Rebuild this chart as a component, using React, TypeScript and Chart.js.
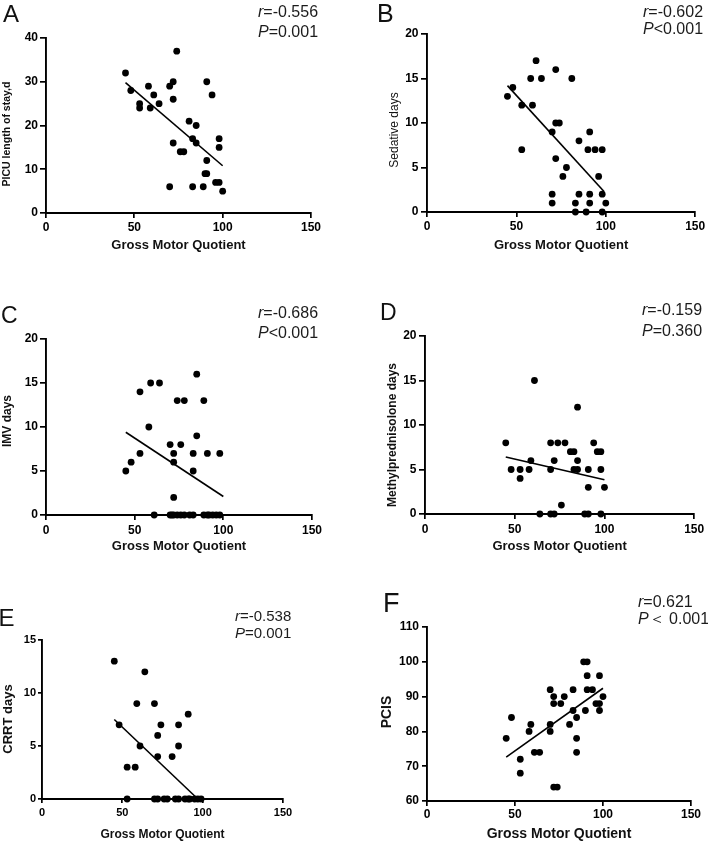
import React, { useEffect, useRef } from "react";
import { Chart, registerables } from "chart.js";

Chart.register(...registerables);

const FAMILY = '"Liberation Sans", Arial, Helvetica, sans-serif';

// ---------- data ----------
const xTickValues = [0, 50, 100, 150];
const xAxisTitle = "Gross Motor Quotient";

// A: PICU length of stay
const picuGMQ = [45, 48, 53, 53, 58, 59, 61, 64, 70, 70, 72, 72, 72, 74, 76, 78, 81, 83, 83, 85, 85, 89, 90, 91, 91, 91, 94, 96, 98, 98, 98, 100];
const picuStay = [32, 28, 25, 24, 29, 24, 27, 25, 29, 6, 30, 26, 16, 37, 14, 14, 21, 17, 6, 20, 16, 6, 9, 9, 12, 30, 27, 7, 17, 15, 7, 5];
const picuFitGMQ = [45, 100];
const picuFitStay = [29.8, 10.8];
const picuYTicks = [0, 10, 20, 30, 40];

// B: Sedative days
const sedGMQ = [45, 48, 53, 53, 58, 59, 61, 64, 70, 70, 70, 72, 72, 72, 74, 76, 78, 81, 83, 83, 85, 85, 89, 90, 91, 91, 91, 94, 96, 98, 98, 98, 100];
const sedDays = [13, 14, 12, 7, 15, 12, 17, 15, 9, 2, 1, 16, 10, 6, 10, 4, 5, 15, 1, 0, 8, 2, 0, 7, 9, 2, 1, 7, 4, 7, 2, 0, 1];
const sedFitGMQ = [45, 99];
const sedFitDays = [14.2, 2.3];
const sedYTicks = [0, 5, 10, 15, 20];

// C: IMV days
const imvGMQ = [45, 48, 53, 53, 58, 59, 64, 70, 72, 72, 72, 74, 76, 78, 83, 83, 85, 85, 89, 91, 98, 61, 70, 71, 72, 74, 76, 78, 81, 83, 89, 91, 92, 94, 96, 98];
const imvDays = [5, 6, 7, 14, 10, 15, 15, 8, 7, 6, 2, 13, 8, 13, 7, 5, 16, 9, 13, 7, 7, 0, 0, 0, 0, 0, 0, 0, 0, 0, 0, 0, 0, 0, 0, 0];
const imvFitGMQ = [45, 100];
const imvFitDays = [9.4, 2.1];
const imvYTicks = [0, 5, 10, 15, 20];

// D: Methylprednisolone days
const mpGMQ = [45, 48, 53, 53, 58, 59, 61, 64, 70, 70, 70, 72, 72, 74, 76, 78, 81, 83, 83, 85, 85, 85, 89, 91, 91, 91, 94, 96, 98, 98, 98, 100];
const mpDays = [8, 5, 5, 4, 5, 6, 15, 0, 8, 5, 0, 0, 6, 8, 1, 8, 7, 7, 5, 5, 6, 12, 0, 0, 5, 3, 8, 7, 7, 5, 0, 3];
const mpFitGMQ = [45, 100];
const mpFitDays = [6.4, 3.85];
const mpYTicks = [0, 5, 10, 15, 20];

// E: CRRT days
const crrtGMQ = [45, 48, 53, 58, 59, 61, 64, 70, 72, 72, 74, 81, 85, 85, 91, 53, 70, 72, 76, 78, 83, 85, 89, 91, 92, 95, 97, 99];
const crrtDays = [13, 7, 3, 3, 9, 5, 12, 9, 6, 4, 7, 4, 7, 5, 8, 0, 0, 0, 0, 0, 0, 0, 0, 0, 0, 0, 0, 0];
const crrtFitGMQ = [45, 97];
const crrtFitDays = [7.5, 0];
const crrtYTicks = [0, 5, 10, 15];

// F: PCIS
const pcisGMQ = [45, 48, 53, 53, 58, 59, 61, 64, 70, 70, 70, 72, 72, 72, 74, 76, 78, 81, 83, 83, 85, 85, 85, 89, 91, 91, 91, 90, 94, 96, 98, 98, 98, 100];
const pcisScore = [78, 84, 72, 68, 80, 82, 74, 74, 82, 80, 92, 90, 88, 64, 64, 88, 90, 82, 92, 86, 84, 78, 74, 100, 100, 96, 92, 86, 92, 88, 88, 96, 86, 90];
const pcisFitGMQ = [45, 100];
const pcisFitScore = [72.6, 92.4];
const pcisYTicks = [60, 70, 80, 90, 100, 110];

const panelLetters = ["A", "B", "C", "D", "E", "F"];
const yAxisTitles = ["PICU length of stay,d", "Sedative days", "IMV days", "Methylprednisolone days", "CRRT days", "PCIS"];
const rTexts = ["=-0.556", "=-0.602", "=-0.686", "=-0.159", "=-0.538", "=0.621"];
const pTexts = ["=0.001", "<0.001", "<0.001", "=0.360", "=0.001", "\uFF1C 0.001"];

// ---------- layout / style (page coordinates) ----------
type Layout = {
  box: [number, number, number, number]; // x, y, w, h
  area: [number, number, number, number]; // left, right, top, bottom
  tickSize: number;
  xTl: number; xPad: number; yTl: number; yPad: number;
  xTitleSize: number; xTitleY: number;
  yTitleSize: number; yTitleBold: boolean; yTitleX: number; yTitleY: number;
  letterSize: number; letterX: number; letterBase: number;
  statSize: number; statX: number; statB1: number; statB2: number;
};

const layouts: Layout[] = [
  { box: [0, 0, 354, 270], area: [46, 311, 38, 213], tickSize: 12, xTl: 5, xPad: 2.3, yTl: 6, yPad: 2,
    xTitleSize: 13, xTitleY: 245.6, yTitleSize: 10.5, yTitleBold: true, yTitleX: 6.7, yTitleY: 134,
    letterSize: 24, letterX: 3, letterBase: 22, statSize: 16, statX: 258, statB1: 17.3, statB2: 37.3 },
  { box: [354, 0, 354, 270], area: [427, 697, 34, 212], tickSize: 12, xTl: 5, xPad: 2.8, yTl: 6, yPad: 2.5,
    xTitleSize: 13, xTitleY: 245.6, yTitleSize: 12, yTitleBold: false, yTitleX: 394.5, yTitleY: 130,
    letterSize: 25, letterX: 377, letterBase: 21.7, statSize: 16, statX: 643, statB1: 17, statB2: 33.5 },
  { box: [0, 270, 354, 290], area: [46, 312, 339, 515], tickSize: 12, xTl: 5, xPad: 3.6, yTl: 6, yPad: 2,
    xTitleSize: 13, xTitleY: 546, yTitleSize: 12, yTitleBold: true, yTitleX: 8, yTitleY: 421,
    letterSize: 23, letterX: 1, letterBase: 323, statSize: 16, statX: 258, statB1: 318.3, statB2: 338.3 },
  { box: [354, 270, 354, 290], area: [425, 696, 336, 514], tickSize: 12, xTl: 5, xPad: 3.8, yTl: 6, yPad: 2.5,
    xTitleSize: 13, xTitleY: 546, yTitleSize: 12, yTitleBold: true, yTitleX: 393, yTitleY: 435,
    letterSize: 23, letterX: 380, letterBase: 320, statSize: 16, statX: 642, statB1: 315, statB2: 336 },
  { box: [0, 560, 354, 290], area: [42, 283, 640, 799], tickSize: 11, xTl: 4, xPad: 2.9, yTl: 4, yPad: 2,
    xTitleSize: 12, xTitleY: 834.5, yTitleSize: 13, yTitleBold: true, yTitleX: 8.3, yTitleY: 719,
    letterSize: 24, letterX: -1.5, letterBase: 626, statSize: 15, statX: 235, statB1: 621, statB2: 638 },
  { box: [354, 560, 354, 290], area: [427, 691, 627, 801], tickSize: 12, xTl: 5, xPad: 1.9, yTl: 5, yPad: 3,
    xTitleSize: 14, xTitleY: 834.5, yTitleSize: 14, yTitleBold: true, yTitleX: 387, yTitleY: 712,
    letterSize: 27, letterX: 383, letterBase: 611.5, statSize: 16, statX: 638, statB1: 606.7, statB2: 624 },
];

type PanelData = { xs: number[]; ys: number[]; fitX: number[]; fitY: number[]; yTicks: number[] };
const panelData: PanelData[] = [
  { xs: picuGMQ, ys: picuStay, fitX: picuFitGMQ, fitY: picuFitStay, yTicks: picuYTicks },
  { xs: sedGMQ, ys: sedDays, fitX: sedFitGMQ, fitY: sedFitDays, yTicks: sedYTicks },
  { xs: imvGMQ, ys: imvDays, fitX: imvFitGMQ, fitY: imvFitDays, yTicks: imvYTicks },
  { xs: mpGMQ, ys: mpDays, fitX: mpFitGMQ, fitY: mpFitDays, yTicks: mpYTicks },
  { xs: crrtGMQ, ys: crrtDays, fitX: crrtFitGMQ, fitY: crrtFitDays, yTicks: crrtYTicks },
  { xs: pcisGMQ, ys: pcisScore, fitX: pcisFitGMQ, fitY: pcisFitScore, yTicks: pcisYTicks },
];

function makeOverlay(i: number) {
  const L = layouts[i];
  const bx = L.box[0];
  const by = L.box[1];
  return {
    id: "overlay" + i,
    afterDraw(chart: any) {
      const ctx: CanvasRenderingContext2D = chart.ctx;
      ctx.save();
      ctx.textAlign = "left";
      ctx.textBaseline = "alphabetic";
      // panel letter
      ctx.fillStyle = "#111";
      ctx.font = `${L.letterSize}px ${FAMILY}`;
      ctx.fillText(panelLetters[i], L.letterX - bx, L.letterBase - by);
      // statistics
      ctx.fillStyle = "#1c1c1c";
      const sx = L.statX - bx;
      ctx.font = `italic ${L.statSize}px ${FAMILY}`;
      ctx.fillText("r", sx, L.statB1 - by);
      let w = ctx.measureText("r").width;
      ctx.font = `${L.statSize}px ${FAMILY}`;
      ctx.fillText(rTexts[i], sx + w, L.statB1 - by);
      ctx.font = `italic ${L.statSize}px ${FAMILY}`;
      ctx.fillText("P", sx, L.statB2 - by);
      w = ctx.measureText("P").width;
      ctx.font = `${L.statSize}px ${FAMILY}`;
      ctx.fillText(pTexts[i], sx + w, L.statB2 - by);
      // y axis title
      ctx.fillStyle = "#111";
      ctx.translate(L.yTitleX - bx, L.yTitleY - by);
      ctx.rotate(-Math.PI / 2);
      ctx.textAlign = "center";
      ctx.textBaseline = "middle";
      ctx.font = `${L.yTitleBold ? "bold " : ""}${L.yTitleSize}px ${FAMILY}`;
      ctx.fillText(yAxisTitles[i], 0, 0);
      ctx.restore();
    },
  };
}

function Panel({ index }: { index: number }) {
  const ref = useRef<HTMLCanvasElement | null>(null);
  const L = layouts[index];
  const D = panelData[index];
  const [bx, by, bw, bh] = L.box;
  const [al, ar, at, ab] = L.area;

  useEffect(() => {
    if (!ref.current) return;
    const yW = al - bx;
    const xH = by + bh - ab;
    const xTitleLH = L.xTitleSize * 1.2;
    const xTitlePadB = Math.max(0, by + bh - L.xTitleY - xTitleLH / 2);
    const yMin = D.yTicks[0];
    const yMax = D.yTicks[D.yTicks.length - 1];

    const chart = new Chart(ref.current, {
      type: "scatter",
      data: {
        datasets: [
          {
            data: D.xs.map((x, k) => ({ x, y: D.ys[k] })),
            backgroundColor: "#000",
            borderColor: "#000",
            borderWidth: 0,
            pointRadius: 3.4,
            showLine: false,
            clip: false,
          } as any,
          {
            data: D.fitX.map((x, k) => ({ x, y: D.fitY[k] })),
            borderColor: "#000",
            borderWidth: 1.6,
            pointRadius: 0,
            showLine: true,
            clip: false,
          } as any,
        ],
      },
      options: {
        responsive: false,
        animation: false,
        events: [],
        layout: { padding: { left: 0, top: at - by, right: bx + bw - ar, bottom: 0 } },
        plugins: { legend: { display: false }, tooltip: { enabled: false } },
        scales: {
          x: {
            type: "linear",
            min: 0,
            max: 150,
            afterBuildTicks: (s: any) => {
              s.ticks = xTickValues.map((v) => ({ value: v }));
            },
            afterFit: (s: any) => {
              s.height = xH;
            },
            border: { display: true, color: "#000", width: 1.9 },
            grid: { display: true, drawOnChartArea: false, drawTicks: true, tickLength: L.xTl, color: "#000", lineWidth: 1.7 },
            ticks: { color: "#000", font: { family: FAMILY, size: L.tickSize, weight: "bold" }, padding: L.xPad, maxRotation: 0, autoSkip: false },
            title: {
              display: true,
              text: xAxisTitle,
              color: "#111",
              font: { family: FAMILY, size: L.xTitleSize, weight: "bold", lineHeight: 1.2 },
              padding: { top: 0, bottom: xTitlePadB },
            },
          },
          y: {
            type: "linear",
            min: yMin,
            max: yMax,
            afterBuildTicks: (s: any) => {
              s.ticks = D.yTicks.map((v) => ({ value: v }));
            },
            afterFit: (s: any) => {
              s.width = yW;
            },
            border: { display: true, color: "#000", width: 1.9 },
            grid: { display: true, drawOnChartArea: false, drawTicks: true, tickLength: L.yTl, color: "#000", lineWidth: 1.7 },
            ticks: { color: "#000", font: { family: FAMILY, size: L.tickSize, weight: "bold" }, padding: L.yPad, autoSkip: false },
            title: { display: false },
          },
        },
      },
      plugins: [makeOverlay(index)],
    } as any);
    return () => chart.destroy();
  }, [index]);

  return (
    <canvas
      ref={ref}
      width={bw}
      height={bh}
      style={{ position: "absolute", left: bx, top: by, width: bw, height: bh }}
    />
  );
}

export default function App() {
  return (
    <div
      style={{
        position: "absolute",
        left: 0,
        top: 0,
        width: 708,
        height: 841,
        overflow: "hidden",
        background: "#fff",
      }}
    >
      {layouts.map((_, i) => (
        <Panel key={i} index={i} />
      ))}
    </div>
  );
}
